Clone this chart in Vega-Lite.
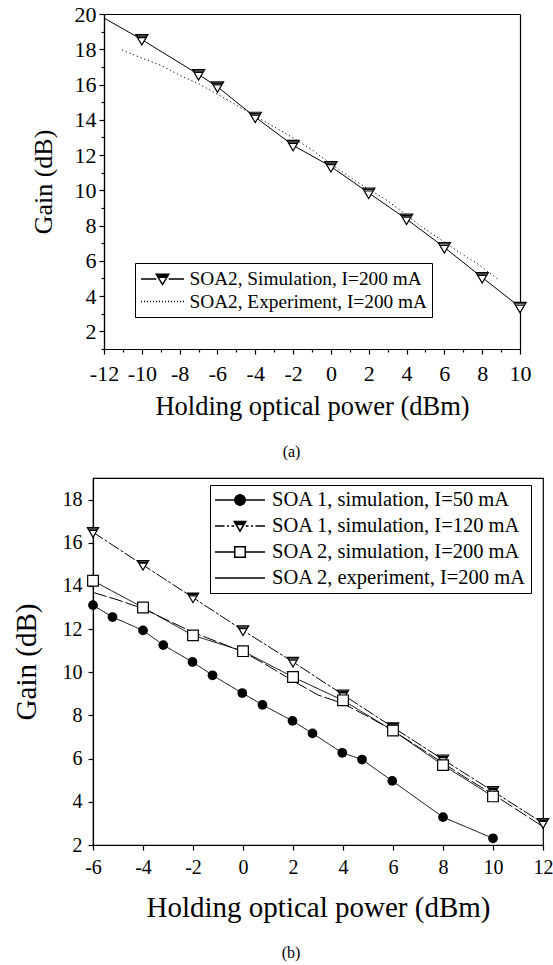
{
  "$schema": "https://vega.github.io/schema/vega-lite/v6.json",
  "padding": {"left": 11, "top": 3, "right": 0, "bottom": 0},
  "background": "white",
  "datasets": {
    "a": [
      {"series": "SOA2, Simulation, I=200 mA", "x": -12, "y": 19.77},
      {"series": "SOA2, Simulation, I=200 mA", "x": -10, "y": 18.55},
      {"series": "SOA2, Simulation, I=200 mA", "x": -7, "y": 16.57},
      {"series": "SOA2, Simulation, I=200 mA", "x": -6, "y": 15.87},
      {"series": "SOA2, Simulation, I=200 mA", "x": -4, "y": 14.15},
      {"series": "SOA2, Simulation, I=200 mA", "x": -2, "y": 12.55},
      {"series": "SOA2, Simulation, I=200 mA", "x": 0, "y": 11.35},
      {"series": "SOA2, Simulation, I=200 mA", "x": 2, "y": 9.85},
      {"series": "SOA2, Simulation, I=200 mA", "x": 4, "y": 8.37},
      {"series": "SOA2, Simulation, I=200 mA", "x": 6, "y": 6.76},
      {"series": "SOA2, Simulation, I=200 mA", "x": 8, "y": 5.06},
      {"series": "SOA2, Simulation, I=200 mA", "x": 10, "y": 3.37},
      {"series": "SOA2, Experiment, I=200 mA", "x": -11.05, "y": 17.96},
      {"series": "SOA2, Experiment, I=200 mA", "x": -10, "y": 17.5},
      {"series": "SOA2, Experiment, I=200 mA", "x": -8.95, "y": 17.07},
      {"series": "SOA2, Experiment, I=200 mA", "x": -7.95, "y": 16.5},
      {"series": "SOA2, Experiment, I=200 mA", "x": -7, "y": 16.05},
      {"series": "SOA2, Experiment, I=200 mA", "x": -6, "y": 15.45},
      {"series": "SOA2, Experiment, I=200 mA", "x": -5, "y": 14.83},
      {"series": "SOA2, Experiment, I=200 mA", "x": -4, "y": 14.2},
      {"series": "SOA2, Experiment, I=200 mA", "x": -3, "y": 13.6},
      {"series": "SOA2, Experiment, I=200 mA", "x": -2, "y": 12.97},
      {"series": "SOA2, Experiment, I=200 mA", "x": -1, "y": 12.3},
      {"series": "SOA2, Experiment, I=200 mA", "x": 0, "y": 11.5},
      {"series": "SOA2, Experiment, I=200 mA", "x": 1, "y": 10.75},
      {"series": "SOA2, Experiment, I=200 mA", "x": 2, "y": 10.05},
      {"series": "SOA2, Experiment, I=200 mA", "x": 2.85, "y": 9.52},
      {"series": "SOA2, Experiment, I=200 mA", "x": 4, "y": 8.6},
      {"series": "SOA2, Experiment, I=200 mA", "x": 4.7, "y": 8.0},
      {"series": "SOA2, Experiment, I=200 mA", "x": 5.75, "y": 7.25},
      {"series": "SOA2, Experiment, I=200 mA", "x": 6.9, "y": 6.4},
      {"series": "SOA2, Experiment, I=200 mA", "x": 7.8, "y": 5.8},
      {"series": "SOA2, Experiment, I=200 mA", "x": 8.9, "y": 4.9}
    ],
    "b": [
      {"series": "SOA 1, simulation, I=50 mA", "x": -6, "y": 13.11},
      {"series": "SOA 1, simulation, I=50 mA", "x": -5.22, "y": 12.56},
      {"series": "SOA 1, simulation, I=50 mA", "x": -4, "y": 11.94},
      {"series": "SOA 1, simulation, I=50 mA", "x": -3.19, "y": 11.26},
      {"series": "SOA 1, simulation, I=50 mA", "x": -2.02, "y": 10.48},
      {"series": "SOA 1, simulation, I=50 mA", "x": -1.22, "y": 9.86},
      {"series": "SOA 1, simulation, I=50 mA", "x": -0.03, "y": 9.04},
      {"series": "SOA 1, simulation, I=50 mA", "x": 0.78, "y": 8.49},
      {"series": "SOA 1, simulation, I=50 mA", "x": 1.98, "y": 7.75},
      {"series": "SOA 1, simulation, I=50 mA", "x": 2.78, "y": 7.17},
      {"series": "SOA 1, simulation, I=50 mA", "x": 3.97, "y": 6.27},
      {"series": "SOA 1, simulation, I=50 mA", "x": 4.76, "y": 5.96},
      {"series": "SOA 1, simulation, I=50 mA", "x": 5.97, "y": 4.97},
      {"series": "SOA 1, simulation, I=50 mA", "x": 8, "y": 3.29},
      {"series": "SOA 1, simulation, I=50 mA", "x": 10, "y": 2.31},
      {"series": "SOA 1, simulation, I=120 mA", "x": -6, "y": 16.49},
      {"series": "SOA 1, simulation, I=120 mA", "x": -4, "y": 14.97},
      {"series": "SOA 1, simulation, I=120 mA", "x": -2, "y": 13.46},
      {"series": "SOA 1, simulation, I=120 mA", "x": 0, "y": 11.94},
      {"series": "SOA 1, simulation, I=120 mA", "x": 2, "y": 10.48},
      {"series": "SOA 1, simulation, I=120 mA", "x": 4, "y": 8.96},
      {"series": "SOA 1, simulation, I=120 mA", "x": 6, "y": 7.45},
      {"series": "SOA 1, simulation, I=120 mA", "x": 8, "y": 5.96},
      {"series": "SOA 1, simulation, I=120 mA", "x": 10, "y": 4.49},
      {"series": "SOA 1, simulation, I=120 mA", "x": 12, "y": 3.01},
      {"series": "SOA 2, simulation, I=200 mA", "x": -6, "y": 14.24},
      {"series": "SOA 2, simulation, I=200 mA", "x": -4, "y": 13.0},
      {"series": "SOA 2, simulation, I=200 mA", "x": -2, "y": 11.71},
      {"series": "SOA 2, simulation, I=200 mA", "x": 0, "y": 10.98},
      {"series": "SOA 2, simulation, I=200 mA", "x": 2, "y": 9.78},
      {"series": "SOA 2, simulation, I=200 mA", "x": 4, "y": 8.7},
      {"series": "SOA 2, simulation, I=200 mA", "x": 6, "y": 7.3},
      {"series": "SOA 2, simulation, I=200 mA", "x": 8, "y": 5.7},
      {"series": "SOA 2, simulation, I=200 mA", "x": 10, "y": 4.25},
      {"series": "SOA 2, experiment, I=200 mA", "x": -6, "y": 13.7},
      {"series": "SOA 2, experiment, I=200 mA", "x": -5, "y": 13.35},
      {"series": "SOA 2, experiment, I=200 mA", "x": -4, "y": 12.95},
      {"series": "SOA 2, experiment, I=200 mA", "x": -3, "y": 12.4},
      {"series": "SOA 2, experiment, I=200 mA", "x": -2, "y": 11.85},
      {"series": "SOA 2, experiment, I=200 mA", "x": -1, "y": 11.4},
      {"series": "SOA 2, experiment, I=200 mA", "x": 0, "y": 10.95},
      {"series": "SOA 2, experiment, I=200 mA", "x": 1, "y": 10.3},
      {"series": "SOA 2, experiment, I=200 mA", "x": 2, "y": 9.6},
      {"series": "SOA 2, experiment, I=200 mA", "x": 3, "y": 8.95},
      {"series": "SOA 2, experiment, I=200 mA", "x": 4, "y": 8.55},
      {"series": "SOA 2, experiment, I=200 mA", "x": 5, "y": 7.95},
      {"series": "SOA 2, experiment, I=200 mA", "x": 6, "y": 7.3},
      {"series": "SOA 2, experiment, I=200 mA", "x": 7, "y": 6.55},
      {"series": "SOA 2, experiment, I=200 mA", "x": 8, "y": 5.8},
      {"series": "SOA 2, experiment, I=200 mA", "x": 9, "y": 5.05},
      {"series": "SOA 2, experiment, I=200 mA", "x": 10, "y": 4.35},
      {"series": "SOA 2, experiment, I=200 mA", "x": 11, "y": 3.6},
      {"series": "SOA 2, experiment, I=200 mA", "x": 12, "y": 2.85}
    ]
  },
  "config": {
    "font": "Liberation Serif",
    "axis": {
      "domainColor": "black", "domainWidth": 1.2, "tickColor": "black", "tickWidth": 1.2,
      "labelColor": "black", "titleColor": "black", "grid": false,
      "labelFont": "Liberation Serif", "titleFont": "Liberation Serif", "titleFontWeight": "normal",
      "labelOverlap": false, "labelFlush": false
    },
    "legend": {"labelFont": "Liberation Serif", "labelColor": "black", "strokeColor": "black", "fillColor": "white", "cornerRadius": 0, "symbolOpacity": 1, "labelLimit": 400},
    "title": {"font": "Liberation Serif", "fontWeight": "normal", "color": "black"}
  },
  "resolve": {"scale": {"shape": "independent"}},
  "spacing": 17,
  "vconcat": [
    {
      "width": 427,
      "height": 335,
      "view": {"stroke": null},
      "title": {"text": "(a)", "orient": "bottom", "anchor": "middle", "frame": "group", "fontSize": 16, "dx": -15, "offset": 24},
      "data": {"name": "a"},
      "resolve": {"axis": {"x": "independent", "y": "independent"}},
      "layer": [
        {
          "transform": [{"filter": "datum.series === 'SOA2, Simulation, I=200 mA'"}],
          "mark": {"type": "line", "color": "black", "strokeWidth": 1},
          "encoding": {
            "x": {"field": "x", "type": "quantitative",
              "scale": {"domain": [-12, 10], "range": [11, 427], "nice": false, "zero": false},
              "axis": {"orient": "bottom", "values": [-12,-11,-10,-9,-8,-7,-6,-5,-4,-3,-2,-1,0,1,2,3,4,5,6,7,8,9,10],
                "labelExpr": "datum.value % 2 === 0 ? '' + datum.value : ''",
                "tickSize": {"condition": {"test": "datum.value % 2 === 0", "value": 5}, "value": 3},
                "grid": true, "gridColor": "black", "gridWidth": 1.2,
                "gridOpacity": {"condition": {"test": "datum.value === -12 || datum.value === 10", "value": 1}, "value": 0},
                "labelFontSize": 22, "labelPadding": 9, "title": "Holding optical power (dBm)", "titleFontSize": 26.5, "titlePadding": 9}},
            "y": {"field": "y", "type": "quantitative",
              "scale": {"domain": [1, 20], "nice": false, "zero": false},
              "axis": {"orient": "left", "offset": -11, "values": [1,2,3,4,5,6,7,8,9,10,11,12,13,14,15,16,17,18,19,20],
                "labelExpr": "datum.value % 2 === 0 ? '' + datum.value : ''",
                "tickSize": {"condition": {"test": "datum.value % 2 === 0", "value": 5}, "value": 3},
                "grid": true, "gridColor": "black", "gridWidth": 1.2,
                "gridOpacity": {"condition": {"test": "datum.value === 1 || datum.value === 20", "value": 1}, "value": 0},
                "labelFontSize": 22, "labelPadding": 3, "title": "Gain (dB)", "titleFontSize": 26, "titlePadding": 18}}
          }
        },
        {
          "transform": [{"filter": "datum.series === 'SOA2, Experiment, I=200 mA'"}],
          "mark": {"type": "line", "color": "black", "strokeWidth": 1, "strokeDash": [1.2, 2.8]},
          "encoding": {
            "x": {"field": "x", "type": "quantitative", "axis": null},
            "y": {"field": "y", "type": "quantitative", "axis": null}
          }
        },
        {
          "transform": [{"filter": "datum.series === 'SOA2, Simulation, I=200 mA' && datum.x > -12"}],
          "mark": {"type": "point", "filled": true, "fill": "white", "stroke": "black", "strokeWidth": 1.2, "opacity": 1, "size": 151,
            "shape": "M-1,-0.8L1,-0.8L0,0.9ZM-0.82,-0.56H0.82M-0.62,-0.32H0.62"},
          "encoding": {
            "x": {"field": "x", "type": "quantitative", "axis": null},
            "y": {"field": "y", "type": "quantitative", "axis": null}
          }
        },
        {
          "mark": {"type": "point", "filled": true, "fill": "white", "stroke": "black", "strokeWidth": 1.2, "opacity": 0, "size": 1},
          "encoding": {
            "x": {"field": "x", "type": "quantitative", "axis": null},
            "y": {"field": "y", "type": "quantitative", "axis": null},
            "shape": {"field": "series", "type": "nominal",
              "scale": {"domain": ["SOA2, Simulation, I=200 mA", "SOA2, Experiment, I=200 mA"],
                "range": ["M-2.15,0H-0.62M0.62,0H2.15M-0.62,-0.47L0.62,-0.47L0,0.56ZM-0.49,-0.32H0.49M-0.37,-0.17H0.37",
                  "M-2.15,0h0.1M-1.85,0h0.1M-1.55,0h0.1M-1.25,0h0.1M-0.95,0h0.1M-0.65,0h0.1M-0.35,0h0.1M-0.05,0h0.1M0.25,0h0.1M0.55,0h0.1M0.85,0h0.1M1.15,0h0.1M1.45,0h0.1M1.75,0h0.1M2.05,0h0.1"]},
              "legend": {"title": null, "orient": "none", "legendX": 42, "legendY": 249, "symbolSize": 400,
                "symbolOffset": 11.5, "labelOffset": 16,
                "labelFontSize": 19.3, "padding": 5, "rowPadding": 0.5,
                "encode": {"legend": {"update": {"strokeWidth": {"value": 1.5}}}}}}
          }
        }
      ]
    },
    {
      "width": 450,
      "height": 367,
      "view": {"stroke": "black", "strokeWidth": 1.2},
      "title": {"text": "(b)", "orient": "bottom", "anchor": "middle", "frame": "group", "fontSize": 16, "dx": -27, "offset": 23},
      "data": {"name": "b"},
      "layer": [
        {
          "mark": {"type": "line", "color": "black", "strokeWidth": 1},
          "encoding": {
            "x": {"field": "x", "type": "quantitative",
              "scale": {"domain": [-6, 12], "nice": false, "zero": false},
              "axis": {"values": [-6,-5,-4,-3,-2,-1,0,1,2,3,4,5,6,7,8,9,10,11,12],
                "labelExpr": "datum.value % 2 === 0 ? '' + datum.value : ''",
                "tickSize": {"condition": {"test": "datum.value % 2 === 0", "value": 5}, "value": 3},
                "labelFontSize": 20, "labelPadding": 7, "title": "Holding optical power (dBm)", "titleFontSize": 29, "titlePadding": 16}},
            "y": {"field": "y", "type": "quantitative",
              "scale": {"domain": [2, 19], "nice": false, "zero": false},
              "axis": {"values": [2,3,4,5,6,7,8,9,10,11,12,13,14,15,16,17,18,19],
                "labelExpr": "datum.value % 2 === 0 ? '' + datum.value : ''",
                "tickSize": {"condition": {"test": "datum.value % 2 === 0", "value": 5}, "value": 3},
                "labelFontSize": 20, "labelPadding": 6, "title": "Gain (dB)", "titleFontSize": 29, "titlePadding": 21}},
            "detail": {"field": "series", "type": "nominal"},
            "strokeDash": {"field": "series", "type": "nominal",
              "scale": {"domain": ["SOA 1, simulation, I=50 mA", "SOA 1, simulation, I=120 mA", "SOA 2, simulation, I=200 mA", "SOA 2, experiment, I=200 mA"],
                "range": [[1, 0], [12, 2, 3, 2], [1, 0], [14, 3]]},
              "legend": null}
          }
        },
        {
          "transform": [{"filter": "datum.series === 'SOA 1, simulation, I=50 mA'"}],
          "mark": {"type": "point", "shape": "circle", "filled": true, "color": "black", "opacity": 1, "size": 95},
          "encoding": {"x": {"field": "x", "type": "quantitative"}, "y": {"field": "y", "type": "quantitative"}}
        },
        {
          "transform": [{"filter": "datum.series === 'SOA 1, simulation, I=120 mA'"}],
          "mark": {"type": "point", "filled": true, "fill": "white", "stroke": "black", "strokeWidth": 1.2, "opacity": 1, "size": 128,
            "shape": "M-1,-0.8L1,-0.8L0,0.9ZM-0.82,-0.56H0.82M-0.62,-0.32H0.62"},
          "encoding": {"x": {"field": "x", "type": "quantitative"}, "y": {"field": "y", "type": "quantitative"}}
        },
        {
          "transform": [{"filter": "datum.series === 'SOA 2, simulation, I=200 mA'"}],
          "mark": {"type": "point", "shape": "square", "filled": true, "fill": "white", "stroke": "black", "strokeWidth": 1.2, "opacity": 1, "size": 114},
          "encoding": {"x": {"field": "x", "type": "quantitative"}, "y": {"field": "y", "type": "quantitative"}}
        },
        {
          "mark": {"type": "point", "filled": true, "fill": "white", "stroke": "black", "strokeWidth": 1.1, "opacity": 0, "size": 1},
          "encoding": {
            "x": {"field": "x", "type": "quantitative"},
            "y": {"field": "y", "type": "quantitative"},
            "shape": {"field": "series", "type": "nominal",
              "scale": {"domain": ["SOA 1, simulation, I=50 mA", "SOA 1, simulation, I=120 mA", "SOA 2, simulation, I=200 mA", "SOA 2, experiment, I=200 mA"],
                "range": ["M-2.5,0H-0.525M0.525,0H2.5M-0.525,0A0.525,0.525 0 1,0 0.525,0A0.525,0.525 0 1,0 -0.525,0ZM-0.425,0A0.425,0.425 0 1,0 0.425,0A0.425,0.425 0 1,0 -0.425,0ZM-0.325,0A0.325,0.325 0 1,0 0.325,0A0.325,0.325 0 1,0 -0.325,0ZM-0.225,0A0.225,0.225 0 1,0 0.225,0A0.225,0.225 0 1,0 -0.225,0ZM-0.125,0A0.125,0.125 0 1,0 0.125,0A0.125,0.125 0 1,0 -0.125,0ZM-0.05,0H0.05",
                  "M-2.5,0H-1.55M-1.3,0H-1.1M-0.85,0H-0.575M0.575,0H0.85M1.1,0H1.3M1.55,0H2.5M-0.575,-0.45L0.575,-0.45L0,0.525ZM-0.45,-0.3H0.45M-0.325,-0.15H0.325",
                  "M-2.5,0H-0.525M0.525,0H2.5M-0.525,-0.525H0.525V0.525H-0.525Z",
                  "M-2.5,0H2.5"]},
              "legend": {"title": null, "orient": "none", "legendX": 117, "legendY": 7, "symbolSize": 400,
                "symbolOffset": 15, "labelOffset": 21,
                "labelFontSize": 20.5, "padding": 4, "rowPadding": 4,
                "encode": {"legend": {"update": {"strokeWidth": {"value": 1.5}}}}}}
          }
        }
      ]
    }
  ]
}
